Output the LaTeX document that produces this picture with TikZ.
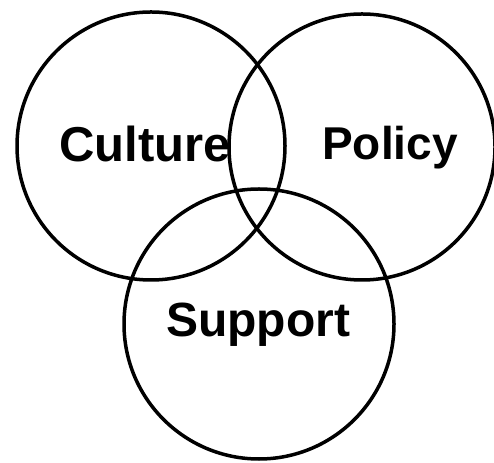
\documentclass[tikz,border=0pt]{standalone}
\usepackage{fontspec}
\setmainfont{Liberation Sans}
\usepackage{tikz}
\usetikzlibrary{positioning}

\begin{document}
\begin{tikzpicture}[x=1pt, y=1pt]
        \useasboundingbox (0,0) rectangle (494,462);

        % The three sets
        \node[draw, circle, line width=3.5pt, minimum size=268pt, inner sep=0pt] (culture) at (151,316) {};
        \node[draw, circle, line width=3.5pt, minimum size=266pt, inner sep=0pt] (policy) at (362,315) {};
        \node[draw, circle, line width=3.5pt, minimum size=270pt, inner sep=0pt] (support) at (259,138) {};

        % Labels
        \node[font=\bfseries\fontsize{49}{49}\selectfont, anchor=base, inner sep=0pt] (cultureText) at (145,300) {Culture};
        \node[font=\bfseries\fontsize{46}{46}\selectfont, anchor=base, inner sep=0pt] (policyText) at (390,302) {Policy};
        \node[font=\bfseries\fontsize{48}{48}\selectfont, anchor=base, inner sep=0pt] (supportText) at (258,125) {Support};
    \end{tikzpicture}
\end{document}
